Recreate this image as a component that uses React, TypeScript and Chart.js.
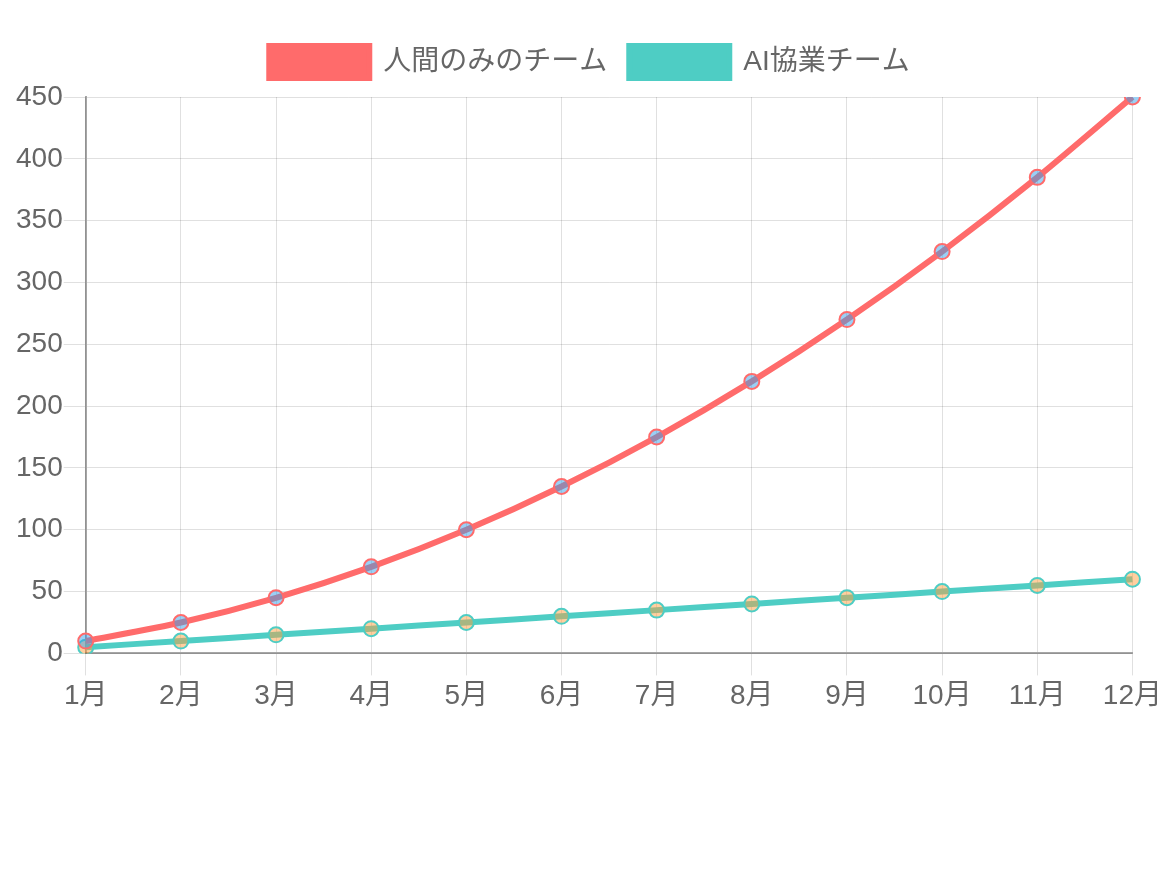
import { useEffect, useRef } from 'react';
import { Chart, registerables } from 'chart.js';
Chart.register(...registerables);

const months = ['1月', '2月', '3月', '4月', '5月', '6月', '7月', '8月', '9月', '10月', '11月', '12月'];
const humanOnly = [10, 25, 45, 70, 100, 135, 175, 220, 270, 325, 385, 450];
const aiTeam = [5, 10, 15, 20, 25, 30, 35, 40, 45, 50, 55, 60];

const FONT = '"Liberation Sans", Arial, "Noto Sans CJK JP", sans-serif';

// a bit of room under the legend
const legendGap = {
  id: 'legendGap',
  beforeInit(chart: any) {
    const fit = chart.legend.fit;
    chart.legend.fit = function () {
      fit.bind(chart.legend)();
      this.height += 9;
    };
  },
};

export default function App() {
  const ref = useRef<HTMLCanvasElement>(null);

  useEffect(() => {
    const chart = new Chart(ref.current!, {
      type: 'line',
      data: {
        labels: months,
        datasets: [
          {
            label: '人間のみのチーム', data: humanOnly,
            borderColor: '#FF6B6B', backgroundColor: '#FF6B6B',
            pointBackgroundColor: 'rgba(54,162,235,0.5)', pointBorderColor: '#FF6B6B',
            borderWidth: 6, pointRadius: 7.5, pointBorderWidth: 2, tension: 0.25, fill: false,
          },
          {
            label: 'AI協業チーム', data: aiTeam,
            borderColor: '#4ECDC4', backgroundColor: '#4ECDC4',
            pointBackgroundColor: 'rgba(255,159,64,0.5)', pointBorderColor: '#4ECDC4',
            borderWidth: 6, pointRadius: 7.5, pointBorderWidth: 2, tension: 0.25, fill: false,
          },
        ],
      },
      plugins: [legendGap],
      options: {
        responsive: true, maintainAspectRatio: false, animation: false,
        layout: { padding: { top: 16, right: 2, left: 7 } },
        plugins: {
          legend: {
            labels: { boxWidth: 100, boxHeight: 32, color: '#666', padding: 22, font: { size: 28, family: FONT } },
          },
          tooltip: { enabled: false },
        },
        scales: {
          x: {
            ticks: { color: '#666', font: { size: 28, family: FONT }, padding: 4 },
            grid: { color: 'rgba(0,0,0,0.12)', tickLength: 22 },
            border: { color: 'rgba(0,0,0,0.35)', width: 2 },
          },
          y: {
            min: 0, max: 450,
            ticks: { stepSize: 50, color: '#666', font: { size: 28, family: FONT }, padding: 1 },
            grid: { color: 'rgba(0,0,0,0.12)', tickLength: 22 },
            border: { color: 'rgba(0,0,0,0.35)', width: 2 },
          },
        },
      },
    });
    return () => chart.destroy();
  }, []);

  return (
    <div style={{ width: 1158, height: 709, position: 'relative' }}>
      <canvas ref={ref} />
    </div>
  );
}
